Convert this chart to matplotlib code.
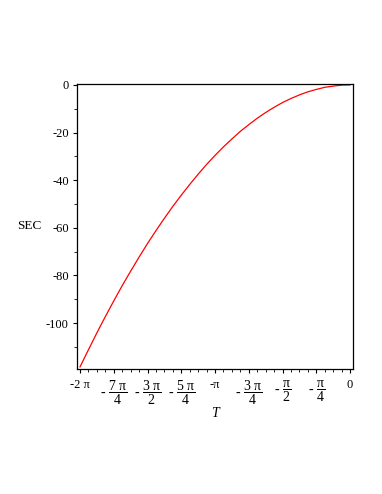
import matplotlib
matplotlib.use("Agg")
import matplotlib.pyplot as plt
import numpy as np

plt.rcParams['font.family'] = ['Liberation Serif', 'DejaVu Serif']
plt.rcParams['mathtext.fontset'] = 'custom'
plt.rcParams['mathtext.rm'] = 'Liberation Serif'
plt.rcParams['mathtext.it'] = 'Liberation Serif:italic'
plt.rcParams['axes.unicode_minus'] = False

# curve, T in steps of pi/16 from -2pi to 0
t_steps = [-32, -31, -30, -29, -28, -27, -26, -25, -24, -23, -22, -21, -20,
           -19, -18, -17, -16, -15, -14, -13, -12, -11, -10, -9, -8, -7,
           -6, -5, -4, -3, -2, -1, 0]
sec = [-118.4, -111.2, -104.1, -97.3, -90.7, -84.3, -78.2, -72.3, -66.6,
       -61.2, -56.0, -51.0, -46.3, -41.8, -37.5, -33.4, -29.6, -26.0, -22.7,
       -19.5, -16.7, -14.0, -11.6, -9.4, -7.4, -5.7, -4.2, -2.9, -1.9, -1.0,
       -0.5, -0.1, 0.0]

xtick_quarters = [-8, -7, -6, -5, -4, -3, -2, -1, 0]
xtick_labels = ['-2 π',
                r'- $\dfrac{\mathrm{7\ π}}{\mathrm{4}}$',
                r'- $\dfrac{\mathrm{3\ π}}{\mathrm{2}}$',
                r'- $\dfrac{\mathrm{5\ π}}{\mathrm{4}}$',
                '-π',
                r'- $\dfrac{\mathrm{3\ π}}{\mathrm{4}}$',
                r'- $\dfrac{\mathrm{π}}{\mathrm{2}}$',
                r'- $\dfrac{\mathrm{π}}{\mathrm{4}}$',
                '0']
yticks = [0, -20, -40, -60, -80, -100]
ytick_labels = ['0', '-20', '-40', '-60', '-80', '-100']

T = np.array(t_steps) * np.pi / 16

fig = plt.figure(figsize=(3.82, 4.94), dpi=100)
ax = fig.add_axes([0.2016, 0.253, 0.7225, 0.577])

ax.plot(T, sec, color='#ff0000', lw=0.9)

ax.set_xlim(-2 * np.pi - 0.07, 0.07)
ax.set_ylim(-119.3, 0.4)

ax.set_xticks(np.array(xtick_quarters) * np.pi / 4)
ax.set_xticklabels(xtick_labels, va='top')
for lab in ax.get_xticklabels():
    lab.set_fontsize(10 if '$' in lab.get_text() else 9)
ax.set_xticks(np.arange(-32, 1) * np.pi / 16, minor=True)
ax.set_yticks(yticks)
ax.set_yticklabels(ytick_labels, fontsize=9)
ax.set_yticks(np.arange(-110, 1, 10), minor=True)

ax.tick_params(which='major', direction='out', length=3, width=0.8, pad=3)
ax.tick_params(axis='x', which='major', pad=4)
ax.tick_params(which='minor', direction='out', length=2, width=0.6)
ax.tick_params(top=False, right=False)
for s in ax.spines.values():
    s.set_linewidth(0.9)

ax.set_xlabel('T', fontsize=10, style='italic', labelpad=0)
ax.set_ylabel('SEC', fontsize=9.5, rotation=0, labelpad=12, va='center')

plt.savefig('out.png', format='png')
